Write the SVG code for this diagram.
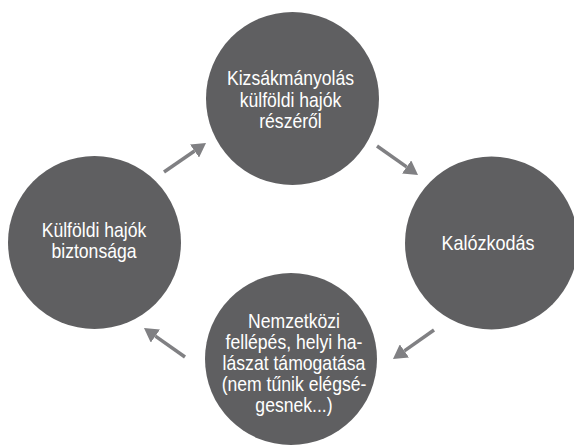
<svg xmlns="http://www.w3.org/2000/svg" width="574" height="445" viewBox="0 0 574 445">
<style>
.node{fill:#5f5f61}
.lbl{fill:#ffffff;font-family:"Liberation Sans",Arial,sans-serif;font-size:20px;text-anchor:middle}
.conn{stroke:#808083;stroke-width:3.5;fill:none}
</style>
<defs>
<marker id="ah" viewBox="0 0 14 16" markerWidth="14" markerHeight="16" refX="0" refY="8" orient="auto" markerUnits="userSpaceOnUse">
<path d="M0,0 L14,8 L0,16 Z" fill="#808083"/>
</marker>
</defs>
<rect width="574" height="445" fill="#ffffff"/>
<g id="connectors">
<line class="conn" x1="164" y1="172" x2="194.5" y2="151" marker-end="url(#ah)"/>
<line class="conn" x1="377" y1="146" x2="406.6" y2="166.9" marker-end="url(#ah)"/>
<line class="conn" x1="434" y1="330" x2="404.4" y2="350.9" marker-end="url(#ah)"/>
<line class="conn" x1="185" y1="357" x2="155.4" y2="336.1" marker-end="url(#ah)"/>
</g>
<g id="node-top">
<circle class="node" cx="292.5" cy="98.5" r="86.5"/>
<text class="lbl" transform="translate(290.5 0) scale(0.88 1)"><tspan x="0" y="85.5">Kizsákmányolás</tspan><tspan x="0" y="107">külföldi hajók</tspan><tspan x="0" y="128.5">részéről</tspan></text>
</g>
<g id="node-right">
<circle class="node" cx="491.5" cy="243" r="86.5"/>
<text class="lbl" transform="translate(488 0) scale(0.9 1)"><tspan x="0" y="250">Kalózkodás</tspan></text>
</g>
<g id="node-bottom">
<circle class="node" cx="291" cy="359" r="86"/>
<text class="lbl" transform="translate(294 0) scale(0.88 1)"><tspan x="0" y="328">Nemzetközi</tspan><tspan x="0" y="349">fellépés, helyi ha-</tspan><tspan x="0" y="370">lászat támogatása</tspan><tspan x="0" y="391">(nem tűnik elégsé-</tspan><tspan x="0" y="412">gesnek...)</tspan></text>
</g>
<g id="node-left">
<circle class="node" cx="94.5" cy="242.5" r="86.5"/>
<text class="lbl" transform="translate(94 0) scale(0.88 1)"><tspan x="0" y="237">Külföldi hajók</tspan><tspan x="0" y="258">biztonsága</tspan></text>
</g>
</svg>
